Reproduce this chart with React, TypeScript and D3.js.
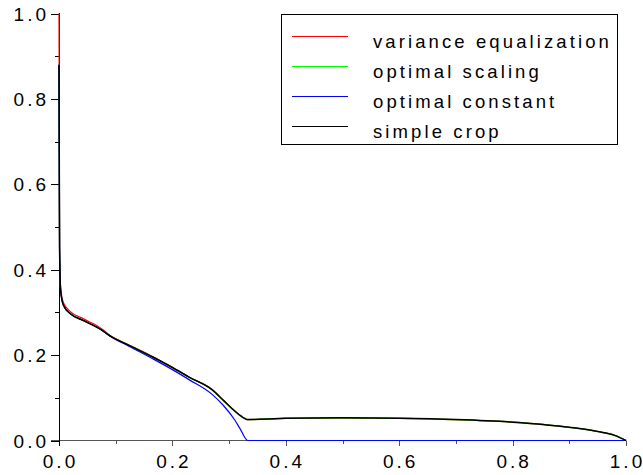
import { curveMonotoneX, line, range, scaleLinear } from 'd3'

const WIDTH = 643
const HEIGHT = 475

// sample positions along x, shared by every series
const xValues = [
  0, 0.001, 0.003, 0.008, 0.02, 0.043, 0.075, 0.09, 0.12, 0.166, 0.2, 0.23, 0.27, 0.29, 0.31, 0.32,
  0.333, 0.4, 0.5, 0.6, 0.7, 0.8, 0.9, 0.95, 0.98, 1.0,
]

const varianceEqualization = [
  1.0, 0.46, 0.355, 0.322, 0.302, 0.285, 0.262, 0.246, 0.226, 0.196, 0.171, 0.148, 0.119, 0.094,
  0.069, 0.058, 0.049, 0.052, 0.053, 0.052, 0.049, 0.043, 0.031, 0.021, 0.012, 0.0,
]
const optimalScaling = [
  0.88, 0.45, 0.35, 0.316, 0.297, 0.281, 0.259, 0.245, 0.225, 0.195, 0.171, 0.148, 0.119, 0.094,
  0.069, 0.058, 0.049, 0.052, 0.053, 0.052, 0.049, 0.043, 0.031, 0.021, 0.012, 0.0,
]
const optimalConstant = [
  0.88, 0.45, 0.35, 0.316, 0.297, 0.281, 0.259, 0.244, 0.223, 0.191, 0.166, 0.142, 0.108, 0.082,
  0.048, 0.026, 0.0, 0, 0, 0, 0, 0, 0, 0, 0, 0,
]
const simpleCrop = [
  0.88, 0.45, 0.35, 0.316, 0.297, 0.281, 0.259, 0.245, 0.225, 0.195, 0.171, 0.148, 0.119, 0.094,
  0.069, 0.058, 0.049, 0.052, 0.053, 0.052, 0.049, 0.043, 0.031, 0.021, 0.012, 0.0,
]

const seriesNames = ['variance equalization', 'optimal scaling', 'optimal constant', 'simple crop']
const seriesColors = ['#ff0000', '#00ff00', '#0000ff', '#000000']
const seriesValues = [varianceEqualization, optimalScaling, optimalConstant, simpleCrop]

const majorTicks = [0, 0.2, 0.4, 0.6, 0.8, 1.0]
const tickLabels = ['0.0', '0.2', '0.4', '0.6', '0.8', '1.0']

const LABEL_FONT = '"Liberation Sans", Arial, Helvetica, sans-serif'

export default function App() {
  const xScale = scaleLinear().domain([0, 1]).range([59, 626])
  const yScale = scaleLinear().domain([0, 1]).range([440.5, 13.5])

  const minorTicks = range(1, 10, 2).map((d) => d / 10)

  const pathFor = (values: number[]) =>
    line<number>()
      .x((_, i) => xScale(xValues[i]))
      .y((v) => yScale(v))
      .curve(curveMonotoneX)(values) ?? ''

  const legendX = 281.5
  const legendY = 14.5
  const rowY = (i: number) => 36 + i * 30

  return (
    <svg
      width={WIDTH}
      height={HEIGHT}
      viewBox={`0 0 ${WIDTH} ${HEIGHT}`}
      style={{ position: 'absolute', left: 0, top: 0, background: '#fff' }}
    >
      {/* x axis */}
      <line x1={51} x2={xScale(1)} y1={440.5} y2={440.5} stroke="#555" strokeWidth={1} />
      {majorTicks.map((t) => (
        <line key={`xt${t}`} x1={Math.round(xScale(t)) + 0.5} x2={Math.round(xScale(t)) + 0.5} y1={440.5} y2={446} stroke="#555" />
      ))}
      {minorTicks.map((t) => (
        <line key={`xm${t}`} x1={Math.round(xScale(t)) + 0.5} x2={Math.round(xScale(t)) + 0.5} y1={440.5} y2={444} stroke="#555" />
      ))}
      {majorTicks.map((t, i) => (
        <text
          key={`xl${t}`}
          x={xScale(t) + 1.5}
          y={468}
          textAnchor="middle"
          fontFamily={LABEL_FONT}
          fontSize={19}
          letterSpacing={3}
        >
          {tickLabels[i]}
        </text>
      ))}

      {/* y axis */}
      <line x1={59.5} x2={59.5} y1={13} y2={446} stroke="#000" strokeWidth={1} />
      {majorTicks.map((t) => (
        <line key={`yt${t}`} x1={51} x2={59.5} y1={Math.round(yScale(t)) + 0.5} y2={Math.round(yScale(t)) + 0.5} stroke="#000" />
      ))}
      {minorTicks.map((t) => (
        <line key={`ym${t}`} x1={55} x2={59.5} y1={Math.round(yScale(t)) + 0.5} y2={Math.round(yScale(t)) + 0.5} stroke="#000" />
      ))}
      {majorTicks.map((t, i) => (
        <text
          key={`yl${t}`}
          x={49}
          y={yScale(t) + 7}
          textAnchor="end"
          fontFamily={LABEL_FONT}
          fontSize={19}
          letterSpacing={3}
        >
          {tickLabels[i]}
        </text>
      ))}

      {/* curves */}
      {seriesValues.map((values, i) => (
        <path
          key={seriesNames[i]}
          d={pathFor(values)}
          fill="none"
          stroke={seriesColors[i]}
          strokeWidth={i === 3 ? 1.5 : 1.2}
        />
      ))}

      {/* legend */}
      <rect x={legendX} y={legendY} width={336} height={130} fill="#fff" stroke="#000" strokeWidth={1} />
      {seriesNames.map((name, i) => (
        <g key={`lg${name}`}>
          <line x1={292} x2={348} y1={rowY(i) + 0.5} y2={rowY(i) + 0.5} stroke={seriesColors[i]} strokeWidth={1} />
          <text x={373} y={rowY(i) + 11.5} fontFamily={LABEL_FONT} fontSize={18.5} letterSpacing={3.1}>
            {name}
          </text>
        </g>
      ))}
    </svg>
  )
}
